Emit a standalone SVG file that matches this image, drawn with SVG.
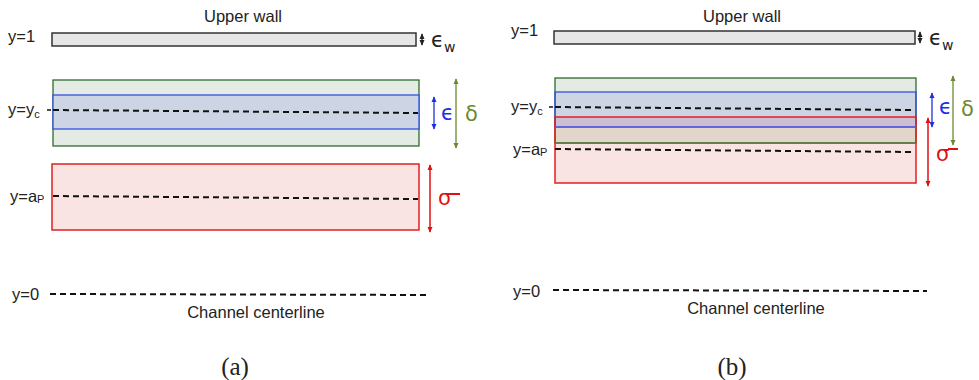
<svg xmlns="http://www.w3.org/2000/svg" width="979" height="380" viewBox="0 0 979 380">
<defs>
<style>
.t{font-family:"Liberation Sans",Arial,sans-serif;font-size:16.5px;fill:#222}
.s{font-size:11px}
.cap{font-family:"Liberation Serif","DejaVu Serif",serif;font-size:25px;fill:#222}
.g{font-family:"DejaVu Sans",sans-serif;font-size:21px}
.dash{fill:none;stroke:#111;stroke-width:2;stroke-dasharray:6 4}
.wall{fill:#e6e6e6;stroke:#333;stroke-width:1.5}
</style>
<marker id="ak" viewBox="0 0 8 8" refX="7" refY="4" markerWidth="6" markerHeight="6" orient="auto-start-reverse" markerUnits="userSpaceOnUse"><path d="M0,0.5 L8,4 L0,7.5 Z" fill="#222"/></marker>
<marker id="ab" viewBox="0 0 8 8" refX="7" refY="4" markerWidth="6" markerHeight="6" orient="auto-start-reverse" markerUnits="userSpaceOnUse"><path d="M0,0.5 L8,4 L0,7.5 Z" fill="#2030e0"/></marker>
<marker id="ag" viewBox="0 0 8 8" refX="7" refY="4" markerWidth="6" markerHeight="6" orient="auto-start-reverse" markerUnits="userSpaceOnUse"><path d="M0,0.5 L8,4 L0,7.5 Z" fill="#6b8a2e"/></marker>
<marker id="ar" viewBox="0 0 8 8" refX="7" refY="4" markerWidth="6" markerHeight="6" orient="auto-start-reverse" markerUnits="userSpaceOnUse"><path d="M0,0.5 L8,4 L0,7.5 Z" fill="#e01010"/></marker>
</defs>

<!-- Panel (a) -->
<g id="a-wall">
<text class="t" x="243" y="22" text-anchor="middle">Upper wall</text>
<text class="t" x="8" y="42">y=1</text>
<rect class="wall" x="52" y="33" width="364" height="13"/>
<line x1="422" y1="34" x2="422" y2="45" stroke="#222" stroke-width="1.3" marker-start="url(#ak)" marker-end="url(#ak)"/>
<text class="g" x="431" y="47" fill="#222">ϵ<tspan font-size="14" dy="5">w</tspan></text>
</g>
<g id="a-delta">
<rect x="53" y="80" width="366" height="66" fill="#e4ebe4" stroke="#2e6b2e" stroke-width="1.3"/>
<rect x="53" y="95" width="366" height="34" fill="#cdd5e4" stroke="#3050e0" stroke-width="1.3"/>
<path class="dash" d="M53,110 L418,113"/>
<text class="t" x="8" y="115">y=y<tspan class="s" dy="3">c</tspan></text>
<line x1="47" y1="110" x2="51" y2="110" stroke="#111" stroke-width="1.5"/>
<line x1="434" y1="97" x2="434" y2="129" stroke="#2030e0" stroke-width="1.3" marker-start="url(#ab)" marker-end="url(#ab)"/>
<text class="g" x="441" y="120" fill="#2030e0">ϵ</text>
<line x1="456" y1="79" x2="456" y2="148" stroke="#6b8a2e" stroke-width="1.3" marker-start="url(#ag)" marker-end="url(#ag)"/>
<text class="g" x="465" y="121" fill="#6b8a2e">δ</text>
</g>
<g id="a-sigma">
<rect x="52" y="164" width="367" height="66" fill="#f9e3e3" stroke="#e02020" stroke-width="1.5"/>
<path class="dash" d="M53,196 L418,199"/>
<text class="t" x="10" y="202">y=a<tspan class="s" font-size="9" dy="1">P</tspan></text>
<line x1="430" y1="165" x2="430" y2="232" stroke="#e01010" stroke-width="1.5" marker-start="url(#ar)" marker-end="url(#ar)"/>
<text class="g" x="438" y="205" fill="#e01010" font-size="25">σ</text>
<line x1="450" y1="194" x2="460" y2="194" stroke="#e01010" stroke-width="2"/>
</g>
<g id="a-center">
<text class="t" x="12" y="300">y=0</text>
<path class="dash" d="M50,294 L430,295"/>
<text class="t" x="256" y="318" text-anchor="middle">Channel centerline</text>
<text class="cap" x="235" y="375" text-anchor="middle">(a)</text>
</g>

<!-- Panel (b) -->
<g id="b-wall">
<text class="t" x="742" y="22" text-anchor="middle">Upper wall</text>
<text class="t" x="511" y="36">y=1</text>
<rect class="wall" x="554" y="31" width="361" height="13"/>
<line x1="920" y1="32" x2="920" y2="43" stroke="#222" stroke-width="1.3" marker-start="url(#ak)" marker-end="url(#ak)"/>
<text class="g" x="929" y="45" fill="#222">ϵ<tspan font-size="14" dy="5">w</tspan></text>
</g>
<g id="b-layers">
<rect x="555" y="78" width="361" height="14" fill="#e4ebe4"/>
<rect x="555" y="92" width="361" height="25" fill="#cdd5e4"/>
<rect x="555" y="117" width="361" height="10" fill="#cdbfd3"/>
<rect x="555" y="127" width="361" height="16" fill="#e2d5cc"/>
<rect x="555" y="143" width="361" height="40" fill="#f9e3e3"/>
<rect x="555" y="78" width="361" height="65" fill="none" stroke="#2e6b2e" stroke-width="1.3"/>
<rect x="555" y="92" width="361" height="35" fill="none" stroke="#3050e0" stroke-width="1.3"/>
<rect x="555" y="117" width="361" height="66" fill="none" stroke="#e02020" stroke-width="1.5"/>
<line x1="555" y1="127" x2="916" y2="127" stroke="#6060d8" stroke-width="1.3"/>
<line x1="555" y1="143" x2="916" y2="143" stroke="#5f7a45" stroke-width="1.3"/>
</g>
<g id="b-labels">
<path class="dash" d="M555,107 L915,110"/>
<text class="t" x="511" y="112">y=y<tspan class="s" dy="3">c</tspan></text>
<line x1="549" y1="107" x2="553" y2="107" stroke="#111" stroke-width="1.5"/>
<path class="dash" d="M555,149 L915,152"/>
<text class="t" x="513" y="155">y=a<tspan class="s" font-size="9" dy="1">P</tspan></text>
<line x1="932" y1="93" x2="932" y2="127" stroke="#2030e0" stroke-width="1.3" marker-start="url(#ab)" marker-end="url(#ab)"/>
<text class="g" x="939" y="114" fill="#2030e0">ϵ</text>
<line x1="953" y1="76" x2="953" y2="145" stroke="#6b8a2e" stroke-width="1.3" marker-start="url(#ag)" marker-end="url(#ag)"/>
<text class="g" x="961" y="116" fill="#6b8a2e">δ</text>
<line x1="928" y1="118" x2="928" y2="186" stroke="#e01010" stroke-width="1.5" marker-start="url(#ar)" marker-end="url(#ar)"/>
<text class="g" x="936" y="161" fill="#e01010" font-size="25">σ</text>
<line x1="948" y1="149" x2="958" y2="149" stroke="#e01010" stroke-width="2"/>
</g>
<g id="b-center">
<text class="t" x="513" y="297">y=0</text>
<path class="dash" d="M553,290 L927,291"/>
<text class="t" x="756" y="314" text-anchor="middle">Channel centerline</text>
<text class="cap" x="732" y="375" text-anchor="middle">(b)</text>
</g>
</svg>
